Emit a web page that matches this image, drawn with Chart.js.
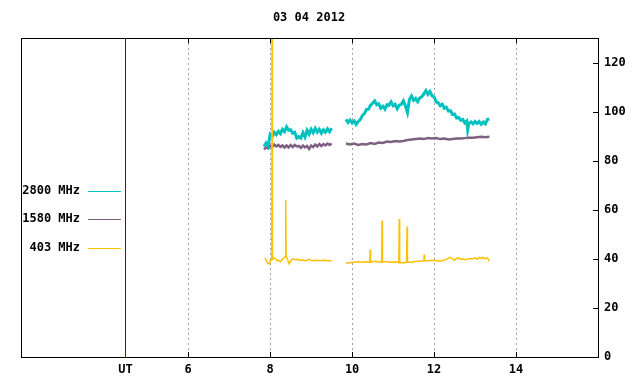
<!DOCTYPE html>
<html>
<head>
<meta charset="utf-8">
<script src="https://cdn.jsdelivr.net/npm/chart.js@4/dist/chart.umd.min.js"></script>
<style>
  html, body { margin: 0; padding: 0; background: #fff; }
  canvas { display: block; }
</style>
</head>
<body>
<canvas id="fluxChart" width="640" height="384"></canvas>
<script>
const TITLE = '03 04 2012';
const X_TICKS = [6, 8, 10, 12, 14];
const UT_MARK = 4.47;
const Y_TICKS = [0, 20, 40, 60, 80, 100, 120];

// [hour UT, flux]; null marks the data gap
const flux2800 = [
  [7.85, 85.8], [7.90, 87.2], [7.95, 86.0], [8.00, 90.8], [8.05, 89.8], [8.10, 91.6], [8.15, 90.6],
  [8.20, 92.0], [8.25, 91.0], [8.30, 92.8], [8.35, 91.8], [8.40, 93.8], [8.45, 92.4], [8.50, 92.6],
  [8.55, 91.2], [8.60, 91.6], [8.65, 89.2], [8.70, 89.8], [8.75, 89.2], [8.80, 91.4], [8.85, 89.6],
  [8.90, 92.4], [8.95, 90.8], [9.00, 92.8], [9.05, 91.4], [9.10, 93.2], [9.15, 91.6], [9.20, 92.8],
  [9.25, 91.2], [9.30, 92.6], [9.35, 91.6], [9.40, 93.0], [9.45, 91.8], [9.50, 93.2],
  [9.67, null],
  [9.85, 96.8], [9.90, 95.6], [9.95, 96.6], [10.00, 95.4], [10.05, 96.2], [10.10, 94.8], [10.15, 96.0],
  [10.20, 96.8], [10.25, 98.4], [10.30, 99.2], [10.35, 100.8], [10.40, 101.0], [10.45, 102.6],
  [10.50, 103.4], [10.55, 104.4], [10.60, 102.8], [10.65, 103.2], [10.70, 101.4], [10.75, 102.2],
  [10.80, 101.0], [10.85, 102.8], [10.90, 102.6], [10.95, 104.0], [11.00, 102.4], [11.05, 103.0],
  [11.10, 101.2], [11.15, 102.6], [11.20, 103.0], [11.25, 104.4], [11.30, 102.4], [11.35, 99.6],
  [11.40, 105.0], [11.45, 106.4], [11.50, 104.6], [11.55, 105.4], [11.60, 104.0], [11.65, 105.6],
  [11.70, 106.0], [11.75, 107.2], [11.80, 108.6], [11.85, 107.0], [11.90, 108.2], [11.95, 106.4],
  [12.00, 106.0], [12.05, 104.0], [12.10, 103.6], [12.15, 102.4], [12.20, 103.0], [12.25, 101.4],
  [12.30, 101.8], [12.35, 100.2], [12.40, 100.4], [12.45, 98.8], [12.50, 99.0], [12.55, 97.4],
  [12.60, 97.6], [12.65, 96.4], [12.70, 96.8], [12.75, 95.4], [12.80, 96.2], [12.82, 92.6],
  [12.85, 95.2], [12.90, 95.8], [12.95, 95.0], [13.00, 96.0], [13.05, 95.2], [13.10, 96.0],
  [13.15, 94.8], [13.20, 95.8], [13.25, 95.0], [13.30, 96.8], [13.35, 97.0],
];

const flux1580 = [
  [7.85, 84.6], [7.90, 85.4], [7.95, 85.0], [8.00, 86.0], [8.05, 85.6], [8.10, 86.6], [8.15, 85.8],
  [8.20, 86.4], [8.25, 85.6], [8.30, 86.2], [8.35, 85.4], [8.40, 86.2], [8.45, 85.4], [8.50, 86.4],
  [8.55, 85.6], [8.60, 86.4], [8.65, 85.8], [8.70, 86.0], [8.75, 85.2], [8.80, 86.2], [8.85, 85.4],
  [8.90, 86.0], [8.95, 84.8], [9.00, 86.2], [9.05, 85.6], [9.10, 86.6], [9.15, 85.8], [9.20, 86.8],
  [9.25, 86.0], [9.30, 86.8], [9.35, 86.2], [9.40, 87.0], [9.45, 86.4], [9.50, 87.0],
  [9.67, null],
  [9.85, 87.0], [9.95, 86.6], [10.05, 87.0], [10.15, 86.4], [10.25, 86.8], [10.35, 86.6],
  [10.45, 87.2], [10.55, 86.8], [10.65, 87.4], [10.75, 87.2], [10.85, 87.8], [10.95, 87.6],
  [11.05, 88.0], [11.15, 87.8], [11.25, 88.0], [11.35, 88.4], [11.45, 88.6], [11.55, 88.8],
  [11.65, 89.0], [11.75, 88.8], [11.85, 89.2], [11.95, 89.0], [12.05, 89.2], [12.15, 88.8],
  [12.25, 89.0], [12.35, 88.6], [12.45, 88.8], [12.55, 89.0], [12.65, 89.0], [12.75, 89.2],
  [12.85, 89.4], [12.95, 89.4], [13.05, 89.6], [13.15, 89.8], [13.25, 89.6], [13.35, 89.8],
];

const flux403 = [
  [7.87, 40.2], [7.90, 39.6], [7.94, 38.2], [7.98, 38.0], [8.01, 39.4], [8.04, 39.8], [8.045, 150],
  [8.05, 39.6], [8.055, 75.5], [8.06, 39.8], [8.09, 40.4], [8.13, 40.0], [8.17, 39.2], [8.21, 39.4],
  [8.25, 38.8], [8.29, 39.6], [8.33, 40.4], [8.37, 40.8], [8.38, 64.0], [8.39, 41.0], [8.43, 39.4],
  [8.46, 38.0], [8.49, 38.8], [8.53, 39.8], [8.57, 40.0], [8.62, 39.6], [8.67, 39.8], [8.72, 39.4],
  [8.78, 39.6], [8.84, 39.2], [8.90, 39.4], [8.96, 39.8], [9.02, 39.2], [9.10, 39.4], [9.20, 39.2],
  [9.30, 39.4], [9.40, 39.2], [9.50, 39.2],
  [9.67, null],
  [9.85, 38.2], [9.95, 38.4], [10.05, 38.6], [10.15, 38.8], [10.25, 38.6], [10.35, 38.8],
  [10.43, 38.6], [10.44, 43.8], [10.45, 38.6], [10.55, 39.0], [10.63, 38.8], [10.72, 38.6],
  [10.73, 55.5], [10.74, 38.8], [10.85, 38.8], [10.95, 38.6], [11.05, 38.8], [11.14, 38.4],
  [11.15, 56.2], [11.16, 38.4], [11.25, 38.4], [11.33, 38.6], [11.34, 53.2], [11.35, 38.6],
  [11.45, 38.6], [11.55, 39.0], [11.65, 39.0], [11.75, 39.2], [11.76, 41.8], [11.77, 39.2],
  [11.85, 39.2], [11.95, 39.4], [12.05, 39.2], [12.15, 39.0], [12.25, 39.4], [12.35, 40.2],
  [12.40, 40.6], [12.45, 40.0], [12.50, 39.4], [12.55, 40.2], [12.60, 40.4], [12.65, 39.8],
  [12.70, 40.0], [12.75, 39.6], [12.85, 40.0], [12.95, 40.0], [13.00, 40.4], [13.05, 39.8],
  [13.10, 40.6], [13.15, 40.2], [13.20, 40.6], [13.25, 40.0], [13.30, 40.4], [13.35, 39.2],
];

const FONT = 'bold 12px "DejaVu Sans Mono", "Liberation Mono", monospace';

const framePlugin = {
  id: 'frame',
  afterDraw(chart) {
    const { ctx, chartArea: a, scales } = chart;
    const x = scales.x;
    const y = scales.y;
    ctx.save();

    // UT marker line
    const ux = Math.round(x.getPixelForValue(UT_MARK)) + 0.5;
    ctx.strokeStyle = '#8b0000';
    ctx.lineWidth = 1;
    ctx.beginPath();
    ctx.moveTo(ux, a.top);
    ctx.lineTo(ux, a.bottom);
    ctx.stroke();

    // frame + inward tick marks
    ctx.strokeStyle = '#000';
    ctx.strokeRect(a.left + 0.5, a.top + 0.5, a.right - a.left, a.bottom - a.top);
    ctx.beginPath();
    X_TICKS.forEach((v) => {
      const px = Math.round(x.getPixelForValue(v)) + 0.5;
      ctx.moveTo(px, a.bottom);
      ctx.lineTo(px, a.bottom - 5);
      ctx.moveTo(px, a.top);
      ctx.lineTo(px, a.top + 5);
    });
    Y_TICKS.forEach((v) => {
      const py = Math.round(y.getPixelForValue(v)) + 0.5;
      ctx.moveTo(a.right, py);
      ctx.lineTo(a.right - 5, py);
    });
    ctx.stroke();

    // title
    ctx.fillStyle = '#000';
    ctx.font = FONT;
    ctx.textAlign = 'center';
    ctx.textBaseline = 'middle';
    ctx.fillText(TITLE, 309, 18);

    // legend at left
    const rows = [191, 219, 248];
    chart.data.datasets.forEach((ds, i) => {
      ctx.textAlign = 'right';
      ctx.fillStyle = '#000';
      ctx.fillText(ds.label, 80, rows[i]);
      ctx.strokeStyle = ds.borderColor;
      ctx.lineWidth = 1;
      ctx.beginPath();
      ctx.moveTo(88, rows[i] + 0.5);
      ctx.lineTo(121, rows[i] + 0.5);
      ctx.stroke();
    });
    ctx.restore();
  },
};

new Chart(document.getElementById('fluxChart'), {
  type: 'line',
  data: {
    datasets: [
      { label: '2800 MHz', data: flux2800, borderColor: '#00c0c0', borderWidth: 3, order: 1 },
      { label: '1580 MHz', data: flux1580, borderColor: '#7e6082', borderWidth: 2.5, order: 2 },
      { label: '403 MHz', data: flux403, borderColor: '#ffc000', borderWidth: 1.5, order: 0 },
    ],
  },
  options: {
    responsive: false,
    animation: false,
    devicePixelRatio: 1,
    spanGaps: false,
    elements: { point: { radius: 0 }, line: { tension: 0 } },
    layout: { padding: { left: 21, top: 38, right: 0, bottom: 0 } },
    plugins: { legend: { display: false }, tooltip: { enabled: false } },
    scales: {
      x: {
        type: 'linear',
        min: 1.92,
        max: 16,
        afterFit: (s) => { s.height = 27; },
        afterBuildTicks: (s) => {
          s.ticks = [UT_MARK, ...X_TICKS].map((v) => ({ value: v }));
        },
        ticks: {
          padding: 6,
          color: '#000',
          font: { family: '"DejaVu Sans Mono", monospace', size: 12, weight: 'bold' },
          maxRotation: 0,
          autoSkip: false,
          callback: (v) => (v === UT_MARK ? 'UT' : String(v)),
        },
        grid: {
          drawTicks: false,
          color: (c) => (c.tick && c.tick.value === UT_MARK ? 'rgba(0,0,0,0)' : '#a0a0a0'),
          lineWidth: 1,
        },
        border: { display: false, dash: [2, 3] },
      },
      y: {
        position: 'right',
        min: 0,
        max: 130,
        afterFit: (s) => { s.width = 42; },
        afterBuildTicks: (s) => {
          s.ticks = Y_TICKS.map((v) => ({ value: v }));
        },
        ticks: {
          padding: 6,
          color: '#000',
          font: { family: '"DejaVu Sans Mono", monospace', size: 12, weight: 'bold' },
        },
        grid: { display: false, drawTicks: false },
        border: { display: false },
      },
    },
  },
  plugins: [framePlugin],
});
</script>
</body>
</html>
